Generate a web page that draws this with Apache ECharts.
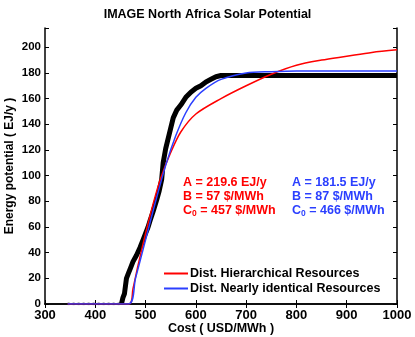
<!DOCTYPE html>
<html>
<head>
<meta charset="utf-8">
<script src="https://cdn.jsdelivr.net/npm/echarts@6/dist/echarts.min.js"></script>
<style>
  html, body { margin: 0; padding: 0; background: #fff; }
  #chart { width: 415px; height: 337px; }
</style>
</head>
<body>
<div id="chart"></div>
<script>
// data (cost in USD/MWh, potential in EJ/y)
var dataTail = [[345, 0], [360, 0], [380, 0], [400, 0], [420, 0], [440, 0], [452, 0]]
var dataRise = [
  [452, 0], [455, 5], [458, 8], [460, 14], [462, 20], [466, 24], [470, 28], [475, 33],
  [482, 38], [489, 44], [495, 50], [500, 55], [505, 60], [509, 65], [515, 72],
  [522, 81], [527, 88], [532, 97], [535, 110], [540, 121], [545, 129], [550, 137],
  [555, 145], [562, 151], [570, 155], [580, 161], [590, 165], [600, 168], [610, 170],
  [620, 173], [630, 175], [640, 177], [650, 178], [700, 178], [800, 178], [900, 178], [1000, 178]
]
var fitHier = [
  [345, 0], [467, 0], [475, 12], [485, 30], [500, 55], [515, 78], [530, 98], [550, 118],
  [570, 134], [600, 148], [650, 160], [700, 170], [750, 179], [800, 186], [850, 190],
  [900, 193], [950, 196], [1000, 198]
]
var fitIdent = [
  [345, 0], [466, 0], [480, 20], [500, 50], [520, 80], [540, 108], [560, 131], [580, 149],
  [600, 161], [620, 168], [650, 175], [700, 180], [750, 181], [800, 181.5], [1000, 181.5]
]
var xTicks = [300, 1000, 100]
var yTicks = [0, 215, 20]
var seriesNames = ['Dist. Hierarchical Resources', 'Dist. Nearly identical Resources']
var paramsHier = ['A = 219.6 EJ/y', 'B = 57 $/MWh', '457 $/MWh']
var paramsIdent = ['A = 181.5 EJ/y', 'B = 87 $/MWh', '466 $/MWh']

var font = 'Liberation Sans, Arial, sans-serif'
var chart = echarts.init(document.getElementById('chart'))

function yLabel(v) {
  return v % yTicks[2] === 0 ? String(v) : ''
}

function paramBlock(lines, color, left) {
  var rich = {
    t: { fill: color, fontSize: 12.5, fontWeight: 'bold', fontFamily: font, lineHeight: 14 },
    s: { fill: color, fontSize: 8.5, fontWeight: 'bold', fontFamily: font, padding: [7, 0, 0, 0], lineHeight: 14 }
  }
  return {
    type: 'text',
    left: left,
    top: 176,
    z: 100,
    style: {
      text: '{t|' + lines[0] + '}\n{t|' + lines[1] + '}\n{t|C}{s|0}{t| = ' + lines[2] + '}',
      rich: rich,
      fill: color
    }
  }
}

chart.setOption({
  animation: false,
  title: {
    text: 'IMAGE North Africa Solar Potential',
    left: 'center',
    top: 3,
    textStyle: { fontFamily: font, fontSize: 12.5, fontWeight: 'bold', color: '#000' }
  },
  grid: { left: 45, right: 18, top: 28, bottom: 33, containLabel: false, outerBoundsMode: 'none' },
  legend: {
    data: seriesNames,
    orient: 'vertical',
    left: 159,
    top: 262,
    itemWidth: 24,
    itemHeight: 2,
    itemGap: 2,
    icon: 'rect',
    textStyle: { fontFamily: font, fontSize: 12.5, fontWeight: 'bold', color: '#000', padding: [0, 0, 0, -3] }
  },
  xAxis: [{
    type: 'value',
    min: xTicks[0],
    max: xTicks[1],
    interval: xTicks[2],
    name: 'Cost ( USD/MWh )',
    nameLocation: 'middle',
    nameGap: 18,
    nameMoveOverlap: false,
    nameTextStyle: { fontFamily: font, fontSize: 12.5, fontWeight: 'bold', color: '#000' },
    axisLine: { lineStyle: { color: '#000', width: 1.5 } },
    axisTick: { inside: true, length: 4, lineStyle: { color: '#000' } },
    axisLabel: { fontFamily: font, fontSize: 13, fontWeight: 'bold', color: '#000', margin: 5, formatter: String },
    splitLine: { show: false }
  }, {
    type: 'value',
    position: 'top',
    min: xTicks[0],
    max: xTicks[1],
    interval: xTicks[2],
    axisLine: { lineStyle: { color: '#000', width: 1.5 } },
    axisTick: { inside: true, length: 4, lineStyle: { color: '#000' } },
    axisLabel: { show: false },
    splitLine: { show: false }
  }],
  yAxis: [{
    type: 'value',
    min: yTicks[0],
    max: yTicks[1],
    interval: yTicks[2],
    name: 'Energy potential ( EJ/y )',
    nameLocation: 'middle',
    nameGap: 29,
    nameMoveOverlap: false,
    nameTextStyle: { fontFamily: font, fontSize: 12, fontWeight: 'bold', color: '#000' },
    axisLine: { show: true, lineStyle: { color: '#000', width: 1.5 } },
    axisTick: { inside: true, length: 4, lineStyle: { color: '#000' } },
    axisLabel: { fontFamily: font, fontSize: 11.5, fontWeight: 'bold', color: '#000', margin: 4, formatter: yLabel },
    splitLine: { show: false }
  }, {
    type: 'value',
    position: 'right',
    min: yTicks[0],
    max: yTicks[1],
    interval: yTicks[2],
    axisLine: { show: true, lineStyle: { color: '#000', width: 1.5 } },
    axisTick: { inside: true, length: 4, lineStyle: { color: '#000' } },
    axisLabel: { show: false },
    splitLine: { show: false }
  }],
  graphic: [
    paramBlock(paramsHier, '#ff0000', 183),
    paramBlock(paramsIdent, '#2b3fff', 292)
  ],
  series: [{
    name: 'data-tail',
    type: 'line',
    data: dataTail,
    symbol: 'none',
    lineStyle: { color: '#000', width: 2.5, type: [2, 3] },
    z: 2
  }, {
    name: 'data',
    type: 'line',
    data: dataRise,
    symbol: 'none',
    lineStyle: { color: '#000', width: 5 },
    z: 2
  }, {
    name: seriesNames[0],
    type: 'line',
    data: fitHier,
    smooth: 0.3,
    symbol: 'none',
    color: '#ff0000',
    lineStyle: { color: '#ff0000', width: 1.5 },
    z: 3
  }, {
    name: seriesNames[1],
    type: 'line',
    data: fitIdent,
    smooth: 0.3,
    symbol: 'none',
    color: '#2b3fff',
    lineStyle: { color: '#2b3fff', width: 1.5 },
    z: 4
  }]
})
</script>
</body>
</html>
